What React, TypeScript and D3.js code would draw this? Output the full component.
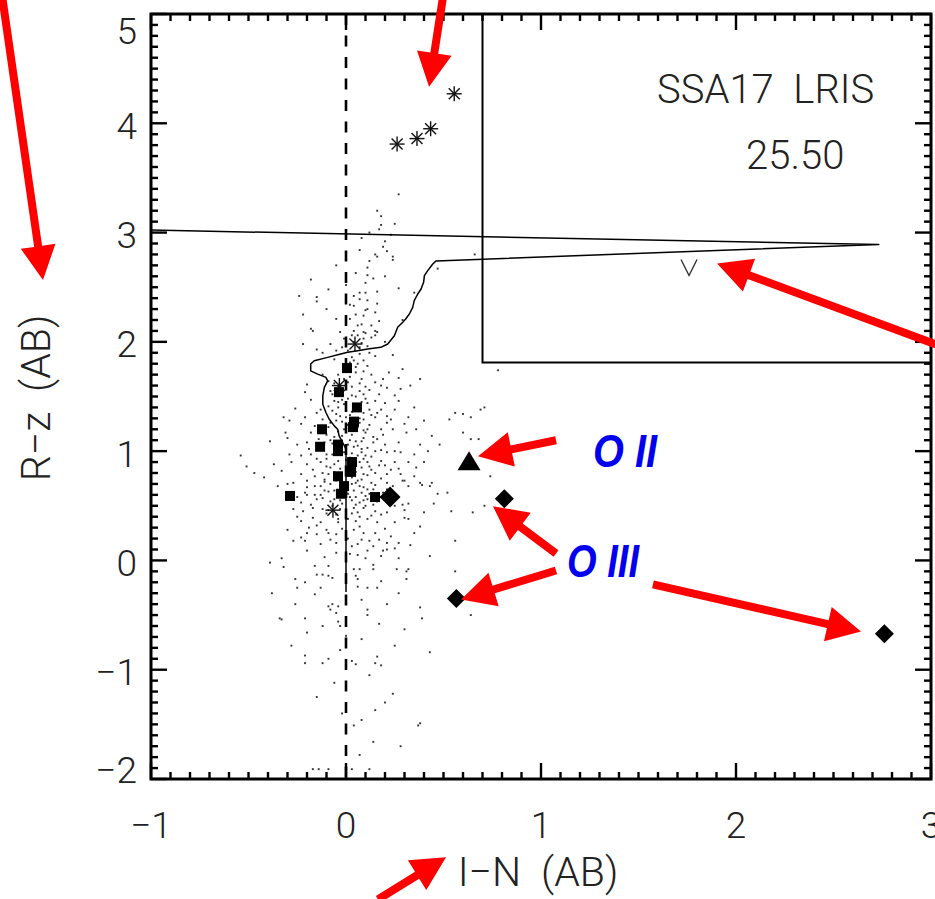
import React from "react";
import * as d3 from "d3";

const xTicks = [-1, 0, 1, 2, 3];
const yTicks = [-2, -1, 0, 1, 2, 3, 4, 5];
const xTickLabels = ["\u22121", "0", "1", "2", "3"];
const yTickLabels = ["\u22122", "\u22121", "0", "1", "2", "3", "4", "5"];

// faint field galaxies (I-N, R-z)
const cloudPoints: [number, number][] = [
  [0.27,3.35],[0.16,3.20],[0.18,3.15],[0.25,3.08],[0.18,3.07],[0.17,3.03],[0.20,2.92],[0.19,2.87],[0.21,2.83],[0.07,2.84],[0.15,2.80],[0.16,2.78],[0.24,2.78],[0.24,2.75],[0.12,2.74],[0.66,2.80],[0.47,2.67],[0.11,2.68],[0.11,2.61],[-0.18,2.57],[0.14,2.58],[0.10,2.54],[0.27,2.49],[-0.09,2.48],[0.16,2.46],[0.35,2.45],[0.10,2.45],[0.07,2.45],[-0.24,2.42],[-0.15,2.41],[-0.15,2.37],[0.04,2.42],[0.07,2.39],[0.11,2.38],[0.02,2.34],[0.16,2.35],[0.04,2.33],[0.10,2.29],[0.11,2.30],[0.15,2.27],[0.05,2.25],[0.09,2.24],[0.02,2.21],[0.17,2.19],[-0.05,2.21],[0.06,2.15],[0.08,2.16],[0.13,2.15],[0.04,2.10],[0.09,2.09],[0.15,2.10],[-0.18,2.12],[-0.17,2.10],[0.15,2.06],[0.03,2.06],[0.06,2.06],
  [-0.22,1.98],[-0.15,1.93],[-0.03,2.09],[0.10,2.08],[0.13,2.04],[0.16,2.09],[0.11,1.96],[0.07,1.89],[0.09,1.83],[0.11,1.78],[0.04,1.83],[0.15,1.87],[0.29,1.75],[0.27,1.67],[0.33,1.60],[0.21,1.58],[0.15,1.63],[0.08,1.66],[0.05,1.72],[0.01,1.63],[-0.03,1.57],[-0.21,1.54],[-0.20,1.61],[-0.09,1.64],[0.17,1.52],[0.09,1.52],[0.03,1.51],[0.25,1.51],[0.27,1.46],[0.15,1.46],[0.08,1.45],[-0.01,1.43],[-0.06,1.46],[-0.13,1.38],[-0.15,1.35],[-0.21,1.31],[-0.32,1.31],[-0.29,1.28],[0.12,1.38],[0.18,1.38],[0.21,1.32],[0.25,1.38],[0.32,1.31],[0.21,1.26],[0.15,1.31],[0.09,1.29],[-0.03,1.32],[-0.08,1.26],[-0.16,1.23],[-0.23,1.25],[-0.18,1.17],[-0.10,1.15],[-0.01,1.20],[0.11,1.20],[0.18,1.20],[0.24,1.20],[0.31,1.17],[0.36,1.20],[0.44,1.14],[0.56,1.35],[0.60,1.34],[0.64,1.31],[0.53,1.29],[0.71,1.40],[0.64,1.11],[0.68,1.11],[0.60,1.17],[-0.39,1.09],[-0.30,1.12],[-0.25,1.06],[-0.20,1.08],[-0.15,1.03],[0.08,1.09],[0.14,1.08],[0.20,1.06],[0.27,1.08],[0.38,1.06],[0.48,1.06],[0.35,0.97],[0.28,0.99],[0.21,0.99],[0.15,1.00],[0.08,0.99],[-0.10,0.97],[-0.18,0.97],[-0.23,0.96],[-0.29,0.97],[-0.54,0.96],[-0.47,0.80],[-0.51,0.86],[-0.37,0.88],[-0.28,0.90],[-0.20,0.88],[-0.13,0.90],[0.11,0.90],[0.18,0.91],[0.25,0.90],[0.32,0.90],[0.40,0.90],[0.21,0.79],[0.15,0.80],[0.09,0.79],[0.28,0.79],[0.35,0.77],[0.44,0.71],[0.38,0.71],[0.30,0.73],[0.21,0.71],[0.13,0.71],[0.06,0.73],[-0.11,0.74],[-0.20,0.73],[-0.27,0.71],[-0.35,0.68],[-0.13,0.68],[0.74,0.77],
  [-0.30,0.70],[-0.21,0.62],[-0.16,0.68],[-0.13,0.60],[0.08,0.62],[0.11,0.56],[0.14,0.65],[0.29,0.73],[0.32,0.68],[0.39,0.69],[0.43,0.68],[0.47,0.61],[0.29,0.51],[0.25,0.50],[0.32,0.52],[-0.23,0.53],[-0.17,0.48],[-0.27,0.47],[-0.22,0.45],[0.05,0.51],[0.09,0.48],[0.06,0.44],[0.15,0.45],[0.18,0.42],[0.21,0.44],[0.30,0.39],[0.32,0.38],[0.40,0.44],[0.54,0.45],[0.71,0.50],[0.65,0.44],[-0.23,0.36],[-0.17,0.39],[-0.13,0.35],[-0.19,0.30],[-0.10,0.28],[-0.04,0.35],[0.05,0.36],[0.11,0.38],[0.16,0.35],[0.25,0.35],[0.38,0.31],[-0.20,0.25],[-0.15,0.24],[-0.09,0.25],[-0.05,0.24],[0.04,0.28],[0.09,0.25],[0.15,0.25],[0.35,0.25],[-0.23,0.21],[-0.21,0.18],[-0.13,0.15],[-0.05,0.16],[0.08,0.19],[0.12,0.18],[0.17,0.19],[0.21,0.16],[0.27,0.16],[0.56,0.18],[-0.27,0.18],[0.03,0.13],[0.06,0.15],[0.21,0.10],[0.25,0.11],[0.19,0.09],[0.11,0.09],[0.27,0.02],[-0.05,0.07],[0.02,0.06],[0.06,0.05],[0.10,0.02],[0.43,0.04],[-0.39,-0.02],[-0.32,-0.06],[-0.16,-0.05],[-0.09,-0.05],[0.04,-0.08],[0.07,-0.08],[0.14,-0.04],[0.14,-0.08],[0.31,-0.10],[0.32,-0.08],[0.56,-0.10],[-0.15,-0.13],[-0.12,-0.13],[-0.09,-0.14],[-0.07,-0.16],[0.05,-0.14],[-0.26,-0.17],[0.06,-0.17],[0.18,-0.19],[0.31,-0.17],[-0.25,-0.25],[-0.13,-0.25],[0.06,-0.24],[0.11,-0.25],[0.16,-0.25],[0.27,-0.30],[-0.16,-0.31],[-0.26,-0.40],[-0.09,-0.42],[-0.07,-0.40],[-0.04,-0.42],[-0.08,-0.45],[0.08,-0.36],[0.11,-0.45],[0.11,-0.50],[0.38,-0.43],[0.39,-0.53],[-0.34,-0.53],[-0.21,-0.53],[-0.04,-0.56],[-0.03,-0.60],[-0.05,-0.48],[0.64,-0.50],[0.30,-0.63],[-0.20,-0.66],[0.00,-0.69],
  [0.08,-0.72],[-0.03,-0.82],[0.43,-0.84],[-0.21,-0.87],[-0.09,-0.90],[-0.21,-0.94],[0.03,-0.92],[0.05,-0.95],[0.16,-0.88],[0.15,-0.94],[0.18,-0.96],[0.24,-1.22],[0.15,-1.37],[0.08,-1.46],[0.04,-1.51],[0.38,-1.49],[0.14,-1.66],[0.07,-1.78],[-0.17,-1.91],[-0.14,-1.91],[-0.09,-1.91],[0.03,-1.91],[0.12,-1.91],
  [-0.38,-0.30],[-0.33,0.02],[-0.33,-0.54],[-0.12,-0.94],[0.37,-1.51],[0.78,1.74],[0.69,1.38],
  [-0.08,1.98],[-0.05,1.92],[-0.01,2.03],[0.01,1.92],[0.07,1.95],[0.09,2.03],[0.03,1.86],[0.00,1.79],[0.05,1.77],[0.09,1.73],[0.02,1.68],[-0.04,1.70],[-0.06,1.62],[-0.02,1.55],[0.03,1.59],[0.07,1.55],[0.10,1.59],[0.01,1.48],[-0.04,1.40],[0.05,1.38],[0.09,1.35],[0.13,1.33],[0.00,1.31],[-0.05,1.34],[-0.09,1.22],[-0.04,1.18],[0.03,1.15],[0.06,1.22],[0.10,1.17],[0.14,1.13],[-0.07,1.07],[-0.03,1.02],[0.02,0.94],[0.06,1.05],[0.09,0.93],[0.13,0.83],[0.17,0.87],[-0.08,0.85],[-0.12,0.80],[-0.04,0.76],[0.01,0.82],[0.05,0.71],[0.09,0.67],[0.12,0.61],[-0.09,0.63],[-0.06,0.56],[-0.02,0.52],[0.02,0.58],[0.07,0.53],[-0.15,0.56],[-0.12,0.47],[-0.18,0.51],[-0.05,0.42],[0.01,0.38],[0.14,0.51],[0.18,0.58],[0.21,0.65],[0.23,0.83],[0.25,1.00],[-0.14,1.11],[-0.17,0.83],[-0.20,0.60],[-0.23,0.79],[-0.25,0.58],
  [-0.12,1.90],[-0.02,1.95],[0.04,2.00],[0.08,1.99],[0.12,1.90],[0.02,1.81],[-0.06,1.84],[0.06,1.80],[0.13,1.70],[0.19,1.66],[0.22,1.72],[-0.01,1.66],[-0.08,1.55],[0.12,1.56],[0.18,1.60],[0.05,1.50],[-0.02,1.47],[0.11,1.44],[0.20,1.44],[-0.09,1.41],[0.03,1.36],[0.16,1.35],[0.23,1.29],[-0.02,1.27],[-0.12,1.29],[0.07,1.26],[0.12,1.24],[0.19,1.15],[-0.06,1.13],[0.02,1.10],[0.09,1.12],[0.16,1.11],[-0.11,1.08],[-0.19,1.02],[0.04,1.04],[0.11,1.03],[0.18,1.01],[-0.07,0.97],[-0.01,0.99],[0.06,0.96],[0.13,0.95],[-0.15,0.93],[-0.04,0.91],[0.04,0.89],[0.20,0.87],[-0.10,0.86],[0.08,0.85],[0.27,0.84],[-0.06,0.81],[0.11,0.78],[0.18,0.75],[-0.16,0.77],[-0.02,0.72],[0.03,0.76],[-0.08,0.70],[0.15,0.69],[0.24,0.68],[-0.20,0.67],[-0.11,0.64],[0.04,0.64],[0.19,0.62],[-0.04,0.60],[0.10,0.59],[0.26,0.58],[-0.16,0.60],[-0.08,0.54],[0.03,0.55],[0.16,0.54],[-0.03,0.47],[0.10,0.50],[-0.10,0.43],[0.13,0.41],[0.03,0.43],[-0.15,0.32],[0.07,0.31],[-0.02,0.29],[0.20,0.29],[-0.25,0.40],[0.30,0.46],[0.23,0.22],[-0.08,0.19],[0.01,0.20],[0.14,0.13],[-0.20,0.09],[-0.11,0.03],[0.18,0.04],[0.33,0.14],[-0.30,0.28],[0.45,0.52],[0.52,0.62],[0.36,0.85],[0.42,1.00],[-0.33,0.82],[-0.42,0.76],[0.30,1.25],[0.35,1.40],[-0.26,1.39],[-0.31,1.17],[0.40,1.28],[0.28,1.57],[0.38,1.66],[-0.12,1.70],[-0.18,1.47],[0.24,1.88],[0.20,2.00],[-0.10,2.30],[0.00,2.52],[0.05,2.63],[0.20,2.60],[0.08,2.95],[0.12,3.00],[0.23,2.98],[-0.05,2.70],[0.29,2.20],[-0.22,2.25],[0.26,-0.08],[-0.21,-0.20],[0.21,-0.40],[-0.12,-0.60],[0.17,-0.58],[-0.28,-0.78],[0.25,-0.78],[0.12,-1.05],[-0.06,-1.12],[0.20,-1.30],[-0.15,-1.25],[0.28,-1.70],[-0.02,-1.40],
  [-0.07,1.52],[0.00,1.58],[0.07,1.62],[-0.04,1.45],[0.04,1.42],[0.10,1.48],[-0.07,1.37],[0.02,1.33],[0.07,1.30],[-0.05,1.28],[0.01,1.24],[0.09,1.19],[-0.02,1.14],[0.05,1.09],[-0.08,1.10],[0.01,1.06],[0.08,1.02],[-0.05,1.00],[0.03,0.98],[0.10,0.96],[-0.10,0.93],[0.00,0.92],[0.07,0.90],[-0.06,0.88],[0.02,0.86],[0.12,0.86],[-0.03,0.84],[0.05,0.81],[-0.09,0.79],[0.00,0.78],[0.08,0.74],[-0.05,0.73],[0.03,0.70],[-0.11,0.72],[0.07,0.68],[-0.02,0.66],[0.11,0.65],[-0.06,0.64],[0.01,0.61],[-0.12,0.57],[0.05,0.58],[0.09,0.55],[-0.03,0.55],[-0.07,0.50],[0.04,0.48],[0.00,0.45],[-0.09,0.46],[0.07,0.40],[-0.04,0.38]
];

const squarePoints: [number, number][] = [
  [0.005,1.76],[-0.036,1.54],[0.056,1.40],[0.041,1.27],[0.036,1.22],[-0.123,1.20],[-0.133,1.04],[-0.041,1.06],[-0.041,1.00],[0.031,0.90],[0.026,0.81],[-0.041,0.77],[-0.010,0.68],[-0.026,0.61],[-0.287,0.59],[0.149,0.58]
];
const asteriskPoints: [number, number][] = [
  [0.262,3.81],[0.364,3.86],[0.434,3.95],[0.555,4.27],[0.046,1.98],[-0.034,1.60],[-0.067,0.46]
];
const diamondPoints: [number, number][] = [
  [0.226,0.58],[0.812,0.565],[0.566,-0.348],[2.761,-0.672]
];
const trianglePoints: [number, number][] = [[0.631,0.89]];
const vMarkerPoints: [number, number][] = [[1.759,2.68]];

const trackLine: [number, number][] = [
  [-1.0,3.023],[2.732,2.891],[0.462,2.741],[0.445,2.713],[0.419,2.652],[0.402,2.606],[0.398,2.545],[0.385,2.484],[0.368,2.438],[0.350,2.377],[0.342,2.316],[0.325,2.255],[0.306,2.209],[0.291,2.179],[0.265,2.133],[0.248,2.056],[0.214,1.980],[0.179,1.950],[0.111,1.934],[0.060,1.918],[0.009,1.904],[-0.027,1.888],[-0.094,1.858],[-0.163,1.827],[-0.181,1.797],[-0.181,1.735],[-0.145,1.705],[-0.103,1.675],[-0.094,1.643],[-0.111,1.583],[-0.119,1.506],[-0.119,1.430],[-0.103,1.354],[-0.086,1.292],[-0.060,1.231],[-0.043,1.201],[-0.035,1.139],[-0.017,1.079],[0.0,1.017],[0.0,0.38],[0.0,-0.29]
];

const selectionBox = { xMin: 0.70, yMin: 1.81 };

// annotation arrows: [fromX, fromY, tipX, tipY] in data units
const arrows: [number, number, number, number][] = [
  [-1.769,5.23,-1.554,2.566],
  [0.497,5.15,0.426,4.335],
  [3.026,1.976,1.903,2.718],
  [1.077,1.100,0.677,0.953],
  [1.077,0.064,0.754,0.495],
  [1.077,-0.092,0.590,-0.357],
  [1.574,-0.220,2.641,-0.651],
  [0.164,-3.102,0.513,-2.717]
];

const W = 935, H = 899;
const LEFT = 151, RIGHT = 931, TOP = 14, BOTTOM = 779;
const LIGHT = "Roboto, 'Open Sans', 'DejaVu Sans', sans-serif";

function arrowPoly(x1: number, y1: number, x2: number, y2: number) {
  const L = 34, hw = 17.5, sw = 4;
  const dx = x2 - x1, dy = y2 - y1;
  const len = Math.hypot(dx, dy);
  const ux = dx / len, uy = dy / len;
  const px = -uy, py = ux;
  const bx = x2 - ux * L, by = y2 - uy * L;
  const pts = [
    [x1 + px * sw, y1 + py * sw],
    [bx + px * sw, by + py * sw],
    [bx + px * hw, by + py * hw],
    [x2, y2],
    [bx - px * hw, by - py * hw],
    [bx - px * sw, by - py * sw],
    [x1 - px * sw, y1 - py * sw]
  ];
  return pts.map((p) => p.join(",")).join(" ");
}

export default function App() {
  const x = d3.scaleLinear().domain([-1, 3]).range([LEFT, RIGHT]);
  const y = d3.scaleLinear().domain([-2, 5]).range([BOTTOM, TOP]);

  const minorX = d3.range(-10, 31).map((i) => i / 10);
  const minorY = d3.range(-20, 51).map((i) => i / 10);
  const isMajor = (v: number) => Math.abs(v - Math.round(v)) < 1e-6;

  const line = d3.line<[number, number]>().x((d) => x(d[0])).y((d) => y(d[1]));

  const ticks: JSX.Element[] = [];
  minorX.forEach((v, i) => {
    const len = isMajor(v) ? 16 : 7;
    const px = x(v);
    ticks.push(<line key={"xb" + i} x1={px} x2={px} y1={BOTTOM} y2={BOTTOM - len} />);
    ticks.push(<line key={"xt" + i} x1={px} x2={px} y1={TOP} y2={TOP + len} />);
  });
  minorY.forEach((v, i) => {
    const len = isMajor(v) ? 16 : 7;
    const py = y(v);
    ticks.push(<line key={"yl" + i} x1={LEFT} x2={LEFT + len} y1={py} y2={py} />);
    ticks.push(<line key={"yr" + i} x1={RIGHT} x2={RIGHT - len} y1={py} y2={py} />);
  });

  return (
    <svg width={W} height={H} style={{ position: "absolute", left: 0, top: 0, background: "#fff" }}>
      <rect x={0} y={0} width={W} height={H} fill="#fff" />
      {/* cloud */}
      <g fill="#000" fillOpacity={0.8}>
        {cloudPoints.map((d, i) => (
          <rect key={i} x={x(d[0]) - 0.95} y={y(d[1]) - 0.95} width={1.9} height={1.9} />
        ))}
      </g>
      {/* dashed zero line */}
      <line x1={x(0)} x2={x(0)} y1={TOP} y2={BOTTOM} stroke="#000" strokeWidth={2.6} strokeDasharray="11,10.5" />
      {/* track */}
      <path d={line(trackLine) || ""} fill="none" stroke="#000" strokeWidth={1.5} strokeLinejoin="round" />
      {/* selection box */}
      <path
        d={`M${x(selectionBox.xMin)},${TOP} L${x(selectionBox.xMin)},${y(selectionBox.yMin)} L${RIGHT},${y(selectionBox.yMin)}`}
        fill="none" stroke="#000" strokeWidth={2}
      />
      {/* squares */}
      <g fill="#000">
        {squarePoints.map((d, i) => (
          <rect key={i} x={x(d[0]) - 5} y={y(d[1]) - 5} width={10} height={10} />
        ))}
      </g>
      {/* asterisks */}
      <g stroke="#111" strokeWidth={1.4}>
        {asteriskPoints.map((d, i) => {
          const cx = x(d[0]), cy = y(d[1]);
          return (
            <g key={i}>
              <line x1={cx - 7.5} x2={cx + 7.5} y1={cy} y2={cy} />
              <line x1={cx} x2={cx} y1={cy - 7.5} y2={cy + 7.5} />
              <line x1={cx - 5.5} x2={cx + 5.5} y1={cy - 5.5} y2={cy + 5.5} />
              <line x1={cx - 5.5} x2={cx + 5.5} y1={cy + 5.5} y2={cy - 5.5} />
            </g>
          );
        })}
      </g>
      {/* diamonds */}
      <g fill="#000">
        {diamondPoints.map((d, i) => {
          const cx = x(d[0]), cy = y(d[1]);
          const r = i === 0 ? 10.5 : 9.5;
          return <path key={i} d={`M${cx},${cy - r} L${cx + r},${cy} L${cx},${cy + r} L${cx - r},${cy} Z`} />;
        })}
      </g>
      {/* triangle */}
      <g fill="#000">
        {trianglePoints.map((d, i) => {
          const cx = x(d[0]), cy = y(d[1]);
          return <path key={i} d={`M${cx},${cy - 12} L${cx + 11.5},${cy + 7} L${cx - 11.5},${cy + 7} Z`} />;
        })}
      </g>
      {/* V marker */}
      <g fill="none" stroke="#333" strokeWidth={1.4}>
        {vMarkerPoints.map((d, i) => {
          const cx = x(d[0]), cy = y(d[1]);
          return <path key={i} d={`M${cx - 8},${cy - 8} L${cx},${cy + 8} L${cx + 8},${cy - 8}`} />;
        })}
      </g>
      {/* frame & ticks */}
      <g stroke="#000" strokeWidth={2.4}>{ticks}</g>
      <rect x={LEFT} y={TOP} width={RIGHT - LEFT} height={BOTTOM - TOP} fill="none" stroke="#000" strokeWidth={3} />
      {/* tick labels */}
      <g fontFamily={LIGHT} fontWeight={300} fontSize={37} fill="#222">
        {xTicks.map((v, i) => (
          <text key={"xl" + i} x={x(v)} y={838} textAnchor="middle">{xTickLabels[i]}</text>
        ))}
        {yTicks.map((v, i) => (
          <text key={"yl" + i} x={137} y={Math.min(770, Math.max(31, y(v) + 3))} textAnchor="end" dominantBaseline="central">{yTickLabels[i]}</text>
        ))}
      </g>
      {/* axis titles */}
      <g fontFamily={LIGHT} fontWeight={300} fontSize={41} fill="#222">
        <text x={538} y={886} textAnchor="middle" style={{ whiteSpace: "pre" }}>{"I\u2212N  (AB)"}</text>
        <text transform={`translate(36,398) rotate(-90)`} textAnchor="middle" dominantBaseline="central" style={{ whiteSpace: "pre" }}>{"R\u2212z  (AB)"}</text>
      </g>
      {/* field label */}
      <g fontFamily={LIGHT} fontWeight={300} fontSize={40} fill="#222">
        <text x={657} y={103} style={{ whiteSpace: "pre" }}>{"SSA17  LRIS"}</text>
        <text x={746} y={169}>25.50</text>
      </g>
      {/* annotations */}
      <g fill="#ff0000">
        {arrows.map((a, i) => (
          <polygon key={i} points={arrowPoly(x(a[0]), y(a[1]), x(a[2]), y(a[3]))} />
        ))}
      </g>
      <g fontFamily="'Liberation Sans', Arial, sans-serif" fontWeight="bold" fontStyle="italic" fontSize={47} fill="#0000ee">
        <text x={593} y={467} textLength={64} lengthAdjust="spacingAndGlyphs">O II</text>
        <text x={567} y={577} textLength={72} lengthAdjust="spacingAndGlyphs">O III</text>
      </g>
    </svg>
  );
}
